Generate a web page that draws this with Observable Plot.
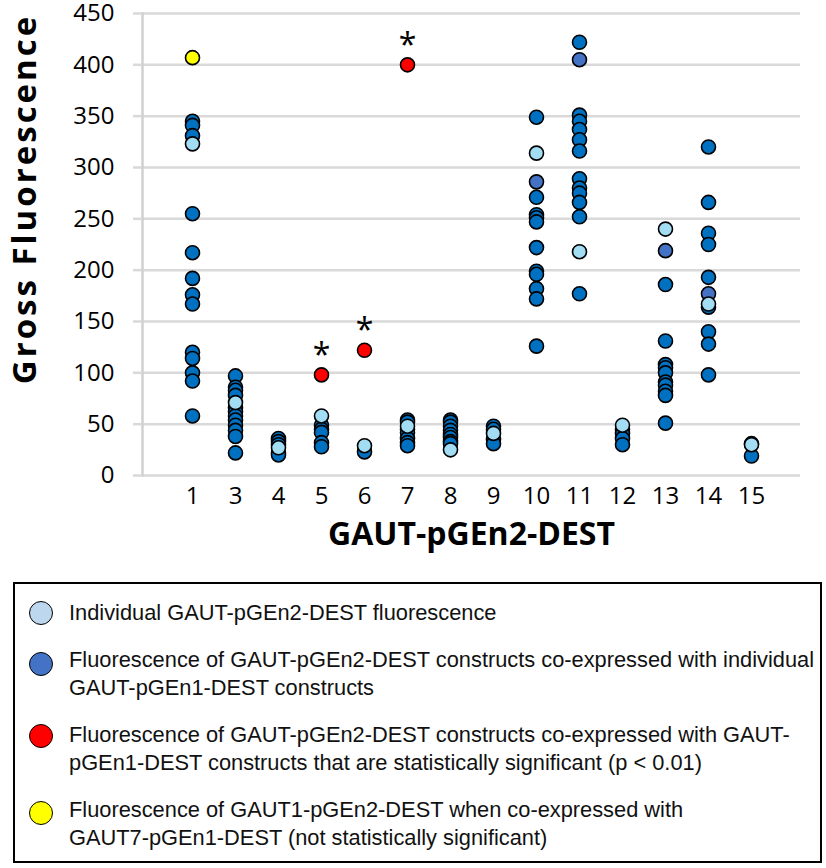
<!DOCTYPE html>
<html>
<head>
<meta charset="utf-8">
<script src="https://cdn.jsdelivr.net/npm/d3@7"></script>
<script src="https://cdn.jsdelivr.net/npm/@observablehq/plot@0.6"></script>
<style>
  html, body { margin: 0; padding: 0; background: #fff; }
  #wrap { position: relative; width: 826px; height: 868px; }
  #legend {
    position: absolute; left: 13px; top: 582px; width: 809px; height: 281px;
    box-sizing: border-box; border: 2px solid #000; background: #fff;
    font-family: "Liberation Sans", Arial, sans-serif; font-size: 22px; color: #111;
  }
  .sw { position: absolute; left: 14px; width: 22px; height: 22px; border: 1.8px solid #000; border-radius: 50%; }
  .txt { position: absolute; left: 54px; line-height: 28px; white-space: nowrap; transform-origin: left center; }
</style>
</head>
<body>
<div id="wrap"></div>
<script>
const categories = ["1","3","4","5","6","7","8","9","10","11","12","13","14","15"];
const yTicks = [0,50,100,150,200,250,300,350,400,450];

// Co-expressed (main blue) values per category
const coExpressed = {
  "1":  [345, 341, 331, 255, 217, 192, 176, 167, 120, 114, 100, 92, 58],
  "3":  [97, 86, 83, 78, 66, 62, 58, 54, 49, 44, 38, 22],
  "4":  [36, 33, 30, 22, 20],
  "5":  [49, 45, 42, 32, 28],
  "6":  [23],
  "7":  [54, 52, 45, 42, 36, 32, 29],
  "8":  [54, 52, 48, 44, 40, 37, 33, 31],
  "9":  [48, 45, 35, 31],
  "10": [349, 271, 254, 251, 247, 222, 199, 196, 182, 172, 126],
  "11": [422, 351, 345, 337, 327, 316, 289, 280, 275, 266, 252, 177],
  "12": [45, 41, 36, 30],
  "13": [186, 131, 108, 105, 100, 91, 88, 82, 78, 51],
  "14": [320, 266, 236, 225, 193, 164, 140, 128, 98],
  "15": [31, 19]
};
// Co-expressed, shown in medium blue
const mediumCats = ["10", "11", "13", "14"];
const mediumValues = [286, 405, 219, 177];
// Individual GAUT-pGEn2-DEST fluorescence (light blue), one per category
const individualValues = [323, 71, 27, 58, 29, 48, 25, 41, 314, 218, 49, 240, 167, 30];
// Statistically significant (red)
const significantCats = ["5", "6", "7"];
const significantValues = [98, 122, 400];
// GAUT1 + GAUT7 (yellow)
const yellowCats = ["1"];
const yellowValues = [407];

const legendLabels = [
  ["Individual GAUT-pGEn2-DEST fluorescence"],
  ["Fluorescence of GAUT-pGEn2-DEST constructs co-expressed with individual", "GAUT-pGEn1-DEST constructs"],
  ["Fluorescence of GAUT-pGEn2-DEST constructs co-expressed with GAUT-", "pGEn1-DEST constructs that are statistically significant (p < 0.01)"],
  ["Fluorescence of GAUT1-pGEn2-DEST when co-expressed with", "GAUT7-pGEn1-DEST (not statistically significant)"]
];
const legendColors = ["#bdd7ee", "#4472c4", "#ff0000", "#ffff00"];

const blueRows = categories.flatMap(c => coExpressed[c].map(v => ({cat: c, value: v})));
const mediumRows = mediumCats.map((c, i) => ({cat: c, value: mediumValues[i]}));
const lightRows = categories.map((c, i) => ({cat: c, value: individualValues[i]}));
const redRows = significantCats.map((c, i) => ({cat: c, value: significantValues[i]}));
const yellowRows = yellowCats.map((c, i) => ({cat: c, value: yellowValues[i]}));

const dotOpts = {x: "cat", y: "value", r: 7, stroke: "#000", strokeWidth: 1.6};

const chart = Plot.plot({
  width: 826,
  height: 572,
  marginLeft: 142,
  marginRight: 26,
  marginTop: 13,
  marginBottom: 97,
  style: {fontFamily: "'Open Sans', sans-serif", background: "#fff", color: "#000", overflow: "visible"},
  x: {type: "point", domain: categories, padding: 1},
  y: {domain: [0, 450]},
  marks: [
    Plot.gridY(yTicks, {stroke: "#d9d9d9", strokeOpacity: 1, strokeWidth: 2.5}),
    Plot.frame({anchor: "left", stroke: "#d0d0d0", strokeWidth: 2.5}),
    Plot.axisY(yTicks, {tickSize: 9, tickPadding: 19, stroke: "#d9d9d9", strokeWidth: 2.5, fill: "#000", fontSize: 24, label: null}),
    Plot.axisX({tickSize: 0, tickPadding: 11, fill: "#000", fontSize: 24, label: null}),
    Plot.dot(blueRows, {...dotOpts, fill: "#0070c0"}),
    Plot.dot(mediumRows, {...dotOpts, fill: "#4472c4"}),
    Plot.dot(lightRows, {...dotOpts, fill: "#a3ddf4"}),
    Plot.dot(redRows, {...dotOpts, fill: "#ff0000"}),
    Plot.dot(yellowRows, {...dotOpts, fill: "#ffff00"}),
    Plot.text(redRows, {x: "cat", y: "value", text: () => "*", dy: -19, fontSize: 32, fill: "#000"}),
    Plot.text(["GAUT-pGEn2-DEST"], {frameAnchor: "bottom", dy: 69, fontSize: 32, fontWeight: "bold", fill: "#000", fontFamily: "'Open Sans', sans-serif"})
  ]
});

const svg = d3.select(chart);
svg.append("text")
  .attr("transform", "translate(23,199) rotate(-90)")
  .attr("text-anchor", "middle")
  .attr("dominant-baseline", "central")
  .attr("font-family", "'Open Sans', sans-serif")
  .attr("font-weight", "bold")
  .attr("font-size", 33)
  .attr("letter-spacing", 3)
  .attr("fill", "#000")
  .text("Gross Fluorescence");

const wrap = document.getElementById("wrap");
wrap.appendChild(chart);
chart.style.position = "absolute";
chart.style.left = "0px";
chart.style.top = "0px";

const legend = document.createElement("div");
legend.id = "legend";
const lineTops = [[15], [62, 90], [137, 165], [212, 240]];
const swatchTops = [17, 68, 140, 217];
const texts = [];
legendLabels.forEach((lines, i) => {
  const sw = document.createElement("div");
  sw.className = "sw";
  sw.style.background = legendColors[i];
  sw.style.top = swatchTops[i] + "px";
  legend.appendChild(sw);
  lines.forEach((t, j) => {
    const tx = document.createElement("div");
    tx.className = "txt";
    tx.style.top = lineTops[i][j] + "px";
    tx.textContent = t;
    legend.appendChild(tx);
    texts.push(tx);
  });
});
wrap.appendChild(legend);
// fit the longest legend line to the reference's width
const w = texts[1].getBoundingClientRect().width;
const k = 745 / w;
texts.forEach(t => { t.style.transform = `scaleX(${k})`; });
</script>
</body>
</html>
